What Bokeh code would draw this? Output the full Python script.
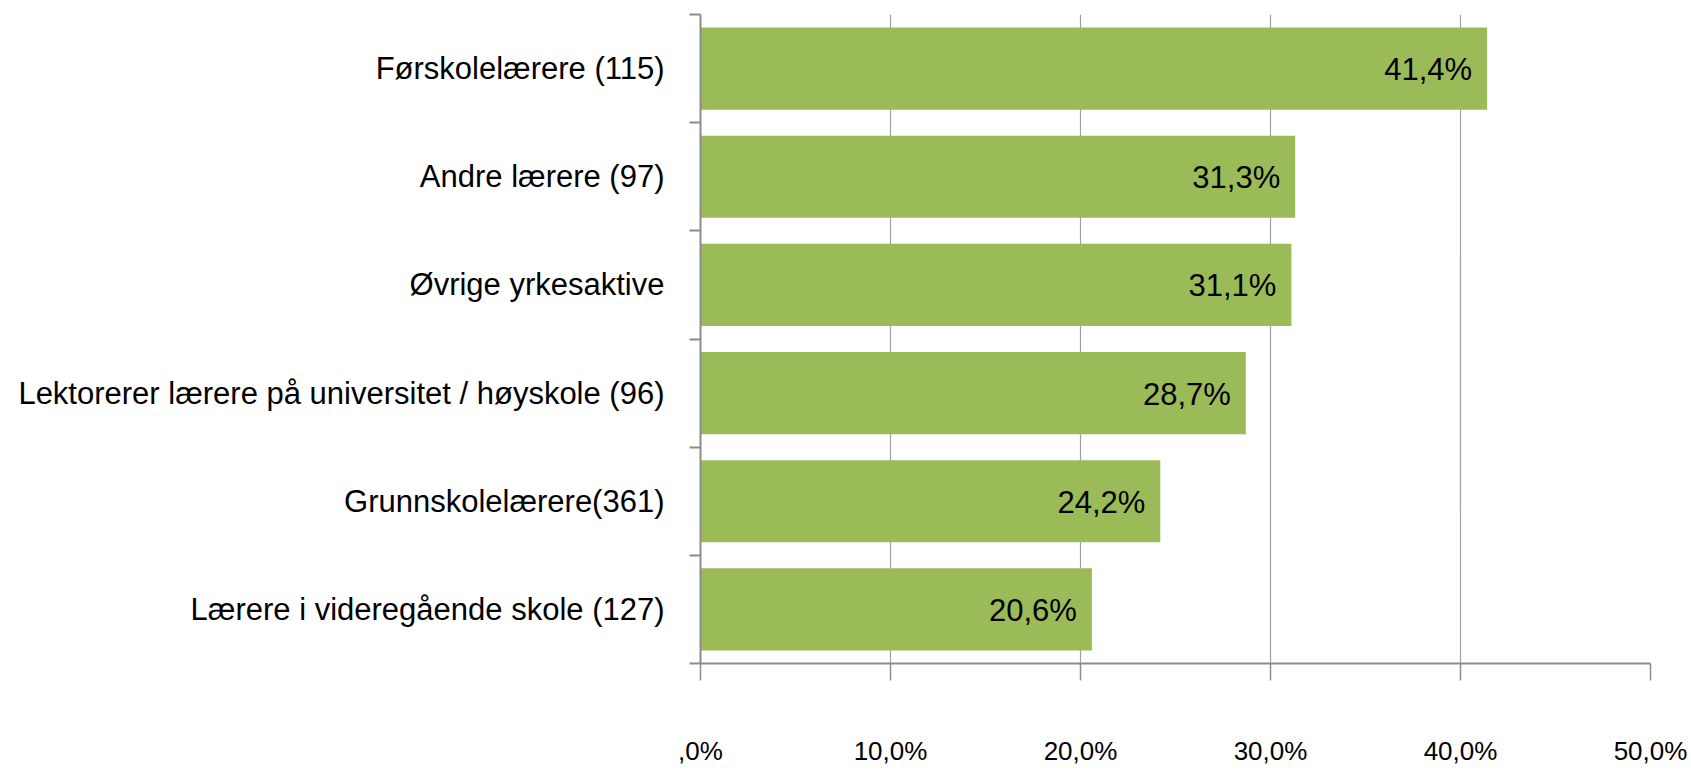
from bokeh.plotting import figure
from bokeh.models import Range1d, FixedTicker, ColumnDataSource
from bokeh.core.properties import value
from bokeh.embed import file_html
from bokeh.resources import INLINE

categories = [
    "Førskolelærere (115)",
    "Andre lærere (97)",
    "Øvrige yrkesaktive",
    "Lektorerer lærere på universitet / høyskole (96)",
    "Grunnskolelærere(361)",
    "Lærere i videregående skole (127)",
]
values = [41.4, 31.3, 31.1, 28.7, 24.2, 20.6]
x_ticks = [0, 10, 20, 30, 40, 50]
x_tick_labels = [",0%", "10,0%", "20,0%", "30,0%", "40,0%", "50,0%"]

FONT = "Liberation Sans"
GRAY = "#8c8c8c"
GREEN = "#9bbb59"

n = len(categories)
ypos = [n - 0.5 - i for i in range(n)]
bar_labels = [f"{v:.1f}".replace(".", ",") + "%" for v in values]

src = ColumnDataSource(dict(y=ypos, v=values, lab=bar_labels, cat=categories))

p = figure(width=1691, height=777, output_backend="svg", toolbar_location=None,
           x_range=Range1d(0, 50), y_range=Range1d(0, n),
           min_border_left=700, min_border_right=41, min_border_top=14,
           min_border_bottom=114)
p.outline_line_color = None
p.background_fill_color = "white"
p.border_fill_color = "white"

p.hbar(y="y", left=0, right="v", height=0.76, source=src,
       fill_color=GREEN, line_color=None)
p.text(x="v", y="y", text="lab", source=src, x_offset=-15, y_offset=1,
       text_align="right", text_baseline="middle",
       text_font=value(FONT), text_font_size="31px", text_color="black")

# x axis
p.xaxis.ticker = FixedTicker(ticks=x_ticks)
p.xaxis.major_label_overrides = {t: l for t, l in zip(x_ticks, x_tick_labels)}
p.xaxis.major_tick_out = 17
p.xaxis.major_tick_in = 0
p.xaxis.minor_tick_out = 0
p.xaxis.minor_tick_in = 0
p.xaxis.major_tick_line_color = GRAY
p.xaxis.major_tick_line_width = 1.5
p.xaxis.axis_line_color = GRAY
p.xaxis.axis_line_width = 2
p.xaxis.major_label_standoff = 55
p.xaxis.major_label_text_font = FONT
p.xaxis.major_label_text_font_size = "26px"
p.xaxis.major_label_text_color = "black"

p.xgrid.ticker = FixedTicker(ticks=x_ticks)
p.xgrid.grid_line_color = "#a0a0a0"
p.xgrid.grid_line_width = 1.2
p.ygrid.grid_line_color = None

# y axis: labels at centres, tick marks at category boundaries
p.yaxis.ticker = FixedTicker(ticks=ypos, minor_ticks=list(range(n + 1)))
p.yaxis.major_label_overrides = {y: c for y, c in zip(ypos, categories)}
p.yaxis.major_tick_out = 0
p.yaxis.major_tick_in = 0
p.yaxis.minor_tick_out = 11
p.yaxis.minor_tick_in = 0
p.yaxis.minor_tick_line_color = GRAY
p.yaxis.minor_tick_line_width = 2
p.yaxis.axis_line_color = GRAY
p.yaxis.axis_line_width = 2
p.yaxis.major_label_standoff = 25
p.yaxis.major_label_text_font = FONT
p.yaxis.major_label_text_font_size = "31px"
p.yaxis.major_label_text_color = "black"

open("out.html", "w").write(file_html(p, INLINE))
